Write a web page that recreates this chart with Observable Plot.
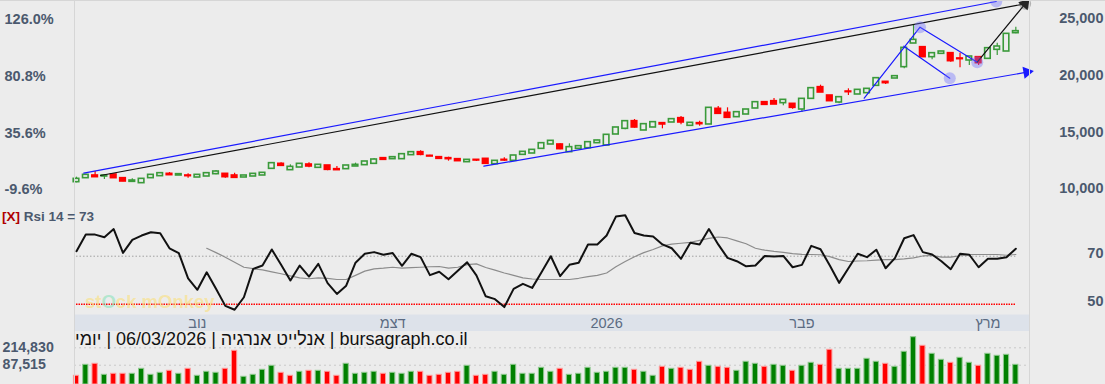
<!DOCTYPE html>
<html>
<head>
<meta charset="utf-8">
<script src="https://cdn.jsdelivr.net/npm/d3@7"></script>
<script src="https://cdn.jsdelivr.net/npm/@observablehq/plot@0.6"></script>
<style>
html, body { margin: 0; padding: 0; background: #ececec; overflow: hidden; }
#chart { position: relative; width: 1105px; height: 384px; background: #ececec; overflow: hidden;
  font-family: "Liberation Sans", Arial, sans-serif; }
#chart > .panel { position: absolute; left: 0; }
.vline { position: absolute; top: 0; width: 1px; height: 384px; background: #d6d6d6; }
.hline { position: absolute; left: 0; top: 0; width: 1105px; height: 1px; background: #d6d6d6; }
#title { position: absolute; left: 75px; top: 332px; font-size: 18px; line-height: 15px; height: 15px; color: #111;
  white-space: nowrap; direction: rtl; }
#rsiLabel { position: absolute; left: 2px; top: 210px; font-size: 13.5px; line-height: 13.5px; font-weight: bold;
  color: #4b596e; white-space: nowrap; }
#rsiLabel .x { color: #b00000; }
#watermark { position: absolute; left: 85px; top: 292px; font-size: 18.5px; font-weight: bold; line-height: 19px;
  color: rgba(252, 222, 110, 0.55); white-space: nowrap; }
#watermark .o1 { color: rgba(130, 225, 180, 0.55); }
</style>
</head>
<body>
<div id="chart"></div>
<script>
// ---------- data ----------
const opens = [
  10585,10938,11174,11085,11262,10938,10614,10497,10938,11115,
  11320,11174,11174,10997,11085,11291,11320,11174,10997,11085,
  11174,11762,12203,11644,11879,12144,11850,12056,11732,11732,
  11968,12085,12203,12703,12615,12615,12968,13232,12909,12791,
  12703,12615,12350,12556,12644,12173,12556,12468,12997,13115,
  13526,13910,13910,13233,13528,13586,14027,13822,14792,15292,
  15968,15145,15410,15792,15851,16234,15557,15792,15675,17057,
  16704,16321,16556,17085,17644,17732,17556,17497,16997,17938,
  18968,18232,17615,18585,18321,18438,19085,19438,19732,20732,
  22820,22497,21615,21909,21968,21500,21321,21615,21468,22262,
  22115,23732];
const highs = [
  11026,11291,11526,11232,11291,10938,10879,10879,11232,11409,
  11438,11291,11320,11232,11409,11615,11320,11379,11174,11320,
  11409,12262,12291,12115,12203,12291,12115,12056,11968,12056,
  12262,12409,12673,12703,12791,13056,13232,13350,12968,12791,
  12791,12615,12556,12556,12644,12468,12732,12938,13262,13438,
  14026,14233,13969,13969,13800,14116,14290,14763,15410,15968,
  16116,15704,15880,15792,16145,16381,15822,15968,17145,17263,
  17145,16762,16997,17644,17644,17968,17850,17497,17938,18880,
  19144,18232,18085,18821,18732,18821,19762,19438,19938,22438,
  24497,22497,21968,22115,21968,21968,21674,21615,22409,22850,
  23673,24262];
const lows = [
  10526,10938,11026,10821,10938,10614,10585,10497,10938,11115,
  11203,11174,10938,10997,11085,11232,10938,10967,10997,11085,
  11174,11762,12026,11644,11879,11850,11850,11585,11644,11732,
  11968,12085,12203,12556,12615,12615,12968,12909,12850,12644,
  12438,12438,12350,12409,12203,12173,12409,12468,12997,13115,
  13494,13910,13439,13233,13500,13586,14000,13822,14792,15204,
  15351,15145,15410,15292,15851,15645,15557,15527,15675,16616,
  16263,16321,16556,17085,17408,17438,17320,17026,16732,17938,
  18497,17732,17497,18232,18321,18438,19085,19203,19732,20585,
  22820,21615,21379,21909,21173,20673,20879,20879,21468,21762,
  22115,23673];
const closes = [
  10879,11232,11026,11174,10938,10644,10732,10879,11232,11379,
  11203,11291,11115,11232,11379,11526,11026,10967,11174,11320,
  11409,12262,12026,11938,12203,11968,12115,11673,11644,12056,
  12115,12409,12585,12556,12791,13056,13232,12997,12850,12644,
  12615,12438,12556,12497,12203,12468,12497,12938,13262,13438,
  14026,14233,13498,13675,13763,14116,14263,14763,15410,15968,
  15410,15704,15880,15675,16145,15851,15822,15704,17145,16616,
  16263,16762,16997,17644,17408,17438,17850,17144,17938,18880,
  18497,17732,18085,18527,18732,18821,19762,19321,19938,22438,
  23144,21615,21968,22115,21262,21440,21674,21085,22409,22556,
  23673,23909];
const volumes = [
  39500,89500,94000,44000,48600,48600,48600,71300,44000,53100,
  62200,48600,71300,39500,57700,53100,71300,153000,35000,44000,
  66800,84900,53100,39500,57700,62200,62200,57700,39500,94000,
  48600,53100,57700,48600,53100,48600,57700,57700,39500,44000,
  53100,57700,84900,39500,44000,57700,44000,89500,48600,48600,
  75900,57700,71300,44000,48600,75900,53100,57700,75900,75900,
  66800,57700,39500,80400,71300,75900,66800,103100,84900,80400,
  75900,62200,103100,94000,80400,89500,84900,62200,84900,98600,
  89500,157600,71300,71300,71300,116700,103100,94000,80400,148500,
  214830,175800,139400,112200,98600,121300,98600,84900,139400,130400,
  134900,89500];
const volumeDir = [
  "R","G","R","G","R","R","G","G","G","G",
  "R","G","R","G","G","G","R","R","G","G",
  "G","G","R","R","G","R","G","R","R","G",
  "G","G","G","R","G","G","G","R","R","R",
  "R","R","G","R","R","G","G","G","G","G",
  "G","G","R","G","G","G","G","G","G","G",
  "R","G","G","R","G","R","R","R","G","R",
  "R","G","G","G","R","G","G","R","G","G",
  "R","R","G","G","G","G","G","R","G","G",
  "G","R","G","G","R","G","G","R","G","G",
  "G","G"];
const rsi = [
  72.1,79.0,79.0,77.9,81.3,71.4,76.8,78.6,80.0,79.6,
  73.3,71.3,60.8,56.0,63.3,56.4,49.3,47.7,52.9,64.7,
  66.1,72.8,66.4,59.9,66.1,61.5,66.8,58.8,54.3,57.7,
  67.3,71.0,71.7,70.6,71.3,66.0,71.0,69.6,62.1,63.5,
  60.4,63.9,67.5,62.0,53.3,52.1,48.8,56.4,58.5,56.8,
  63.3,70.0,61.7,66.4,67.3,74.9,74.9,78.6,86.5,87.1,
  79.7,78.6,78.2,74.9,73.3,68.9,75.6,74.9,81.3,74.9,
  69.3,67.9,65.8,66.1,70.1,69.9,70.1,65.4,66.4,74.3,
  72.9,66.1,58.9,65.0,71.0,69.6,72.7,65.0,69.2,77.5,
  78.8,71.7,70.7,67.9,64.6,71.0,70.6,65.4,68.9,68.9,
  69.6,73.1];
const rsiAvg = [
  null,null,null,null,null,null,null,null,null,null,
  null,null,null,null,73.3,71.5,69.6,67.5,65.4,64.8,
  64.3,63.5,62.7,61.8,61.0,60.6,61.0,60.8,60.3,60.3,
  62.0,63.8,64.7,65.0,65.4,65.0,65.2,65.4,65.6,65.7,
  65.0,65.4,66.5,66.8,65.3,64.2,63.0,62.0,61.0,60.5,
  60.3,60.3,60.3,60.3,60.8,61.5,62.0,63.0,65.6,67.8,
  69.8,71.5,72.8,74.3,75.0,75.4,75.8,76.6,77.4,78.0,
  77.6,76.4,75.2,73.3,72.5,72.0,71.6,71.1,70.8,70.7,
  70.6,69.8,68.6,67.8,68.0,68.1,68.4,68.6,68.6,68.9,
  69.3,70.1,70.3,69.6,69.6,70.2,70.7,70.7,70.7,70.7,
  70.4,70.7];

// axis ticks and labels
const priceTicks = [25000, 20000, 15000, 10000];
const pctLabels = ["126.0%", "80.8%", "35.6%", "-9.6%"];
const rsiTicks = [70, 50];
const volGrid = [166700, 87515];
const volLabels = ["214,830", "87,515"];
const monthLabels = ["נוב", "דצמ", "2026", "פבר", "מרץ"];
const monthIdx = [13, 34, 57, 78, 98];

// drawn annotations (candle index, price)
const upperChannel = [{i: 0.78, p: 11376}, {i: 98.9, p: 26527}];
const blackTrend = [{i: 2.58, p: 11173}, {i: 102.0, p: 26324}];
const lowerChannel = [{i: 43.8, p: 11993}, {i: 102.2, p: 20288}];
const zigzag = [{i: 84.7, p: 17994}, {i: 90.7, p: 24259}, {i: 96.85, p: 21170}];
const zigzagParallel = [{i: 88.96, p: 22582}, {i: 93.9, p: 19759}];
const projection = [{i: 96.85, p: 21170}, {i: 102.0, p: 26324}];
const blueMarkers = [{i: 90.7, p: 24259}, {i: 93.9, p: 19759}, {i: 96.85, p: 21170}, {i: 98.9, p: 26527}];
const darkMarkers = [{i: 102.0, p: 26324}];

// ---------- layout / style ----------
const W = 1105, ML = 74, MR = 76;
const xDomain = [-0.215, 102.47];
const FONT = '"Liberation Sans", Arial, sans-serif';
const LABEL = "#4b596e";
const GREEN = "#3a9a3a", RED = "#ff0000", BG = "#ececec", BLUE = "#1a1aff";

const candles = opens.map((o, i) => ({i, o, h: highs[i], l: lows[i], c: closes[i], up: closes[i] >= o}));
const rsiData = rsi.map((v, i) => ({i, v, a: rsiAvg[i]}));
const volData = volumes.map((v, i) => ({i, v, up: volumeDir[i] === "G"}));
const pctMap = new Map(priceTicks.map((t, k) => [t, pctLabels[k]]));
const volMap = new Map(volGrid.map((t, k) => [t, volLabels[k]]));
const base = {width: W, marginLeft: ML, marginRight: MR, marginTop: 0, marginBottom: 0};
const styl = {background: "transparent", fontFamily: FONT, overflow: "hidden"};

const chart = document.getElementById("chart");
function place(svg, top) { svg.classList.add("panel"); svg.style.top = top + "px"; chart.appendChild(svg); }

// main candlestick panel
const main = Plot.plot({
  ...base, height: 200,
  x: {domain: xDomain, axis: null},
  y: {domain: [8967, 26615], axis: null},
  color: {type: "identity"},
  style: styl,
  marks: [
    Plot.ruleX(candles, {x: "i", y1: "l", y2: "h", stroke: d => d.up ? GREEN : RED, strokeWidth: 1.2}),
    Plot.rect(candles, {x1: d => d.i - 0.3, x2: d => d.i + 0.3, y1: "o", y2: "c",
      fill: d => d.up ? BG : RED, stroke: d => d.up ? GREEN : RED, strokeWidth: 1.6}),
    Plot.line(upperChannel, {x: "i", y: "p", stroke: BLUE, strokeWidth: 1.2, clip: true}),
    Plot.line(blackTrend, {x: "i", y: "p", stroke: "#111", strokeWidth: 1.2, clip: true}),
    Plot.line(lowerChannel, {x: "i", y: "p", stroke: BLUE, strokeWidth: 1.2}),
    Plot.line(zigzag, {x: "i", y: "p", stroke: BLUE, strokeWidth: 1.2}),
    Plot.line(zigzagParallel, {x: "i", y: "p", stroke: BLUE, strokeWidth: 1.2}),
    Plot.line(projection, {x: "i", y: "p", stroke: "#111", strokeWidth: 1.2}),
    Plot.dot(lowerChannel.slice(-1), {x: "i", y: "p", symbol: "triangle", r: 4.5, fill: BLUE, stroke: null, rotate: 80}),
    Plot.dot(projection.slice(-1), {x: "i", y: "p", symbol: "triangle", r: 4.5, fill: "#111", stroke: null, rotate: 40}),
    Plot.dot(blueMarkers, {x: "i", y: "p", r: 6, fill: "#7070ff", fillOpacity: 0.4, stroke: null}),
    Plot.dot(darkMarkers, {x: "i", y: "p", r: 6, fill: "#444", fillOpacity: 0.35, stroke: null}),
    Plot.axisY(priceTicks, {anchor: "right", tickSize: 0, tickPadding: 0, textAnchor: "end", dx: 74,
      tickFormat: d => d3.format(",")(d), fill: LABEL, fontSize: 14.5, fontWeight: "bold", label: null}),
    Plot.axisY(priceTicks, {anchor: "left", tickSize: 0, tickPadding: 0, textAnchor: "start", dx: -70, dy: 1,
      tickFormat: d => pctMap.get(d), fill: LABEL, fontSize: 14.5, fontWeight: "bold", label: null})
  ]
});
place(main, 0);

// RSI panel
const rsiPlot = Plot.plot({
  ...base, height: 114,
  x: {domain: xDomain, axis: null},
  y: {domain: [45.71, 93.21], axis: null},
  style: styl,
  marks: [
    Plot.ruleY([rsiTicks[0]], {x1: 0, x2: rsi.length - 1, stroke: "#a0a0a0", strokeDasharray: "1.5,2", strokeWidth: 1}),
    Plot.ruleY([rsiTicks[1]], {x1: 0, x2: rsi.length - 1, stroke: "#ff0000", strokeDasharray: "1.5,1", strokeWidth: 1.6}),
    Plot.line(rsiData.filter(d => d.a != null), {x: "i", y: "a", stroke: "#8c8c8c", strokeWidth: 1.2}),
    Plot.line(rsiData, {x: "i", y: "v", stroke: "#111", strokeWidth: 2}),
    Plot.axisY(rsiTicks, {anchor: "right", tickSize: 0, tickPadding: 0, textAnchor: "end", dx: 74, dy: -3,
      fill: LABEL, fontSize: 14.5, fontWeight: "bold", label: null})
  ]
});
place(rsiPlot, 200);

// month band
const band = Plot.plot({
  ...base, height: 17,
  x: {domain: xDomain, axis: null},
  style: styl,
  marks: [
    Plot.frame({fill: "#dde2ea", stroke: null}),
    Plot.text(monthLabels, {x: (d, k) => monthIdx[k], text: d => d, frameAnchor: "middle",
      fill: "#5b6b82", fontSize: 14.5})
  ]
});
place(band, 314);

// volume panel
const vol = Plot.plot({
  ...base, height: 53,
  x: {domain: xDomain, axis: null},
  y: {domain: [0, 240726], axis: null},
  color: {type: "identity"},
  style: styl,
  marks: [
    Plot.ruleY(volGrid, {stroke: "#c9c9c9", strokeDasharray: "2,3"}),
    Plot.rect(volData, {x1: d => d.i - 0.28, x2: d => d.i + 0.28, y1: 0, y2: "v",
      fill: d => d.up ? "#008000" : "#ff0000", stroke: d => d.up ? "#8fc98f" : "#ff9a9a", strokeWidth: 1}),
    Plot.axisY(volGrid, {anchor: "left", tickSize: 0, tickPadding: 0, textAnchor: "start", dx: -72, dy: -0.5,
      tickFormat: d => volMap.get(d), fill: LABEL, fontSize: 14.2, fontWeight: "bold", label: null})
  ]
});
place(vol, 331);

// panel borders and texts
chart.insertAdjacentHTML("beforeend",
  '<div class="hline"></div><div class="vline" style="left:74px"></div><div class="vline" style="left:1029px"></div>' +
  '<div id="watermark">st<span class="o1">O</span>ck mOnkey</div>' +
  '<div id="rsiLabel"><span class="x">[X]</span> Rsi 14 = ' + Math.round(rsi[rsi.length - 1]) + '</div>' +
  '<div id="title">bursagraph.co.il | אנלייט אנרגיה | 06/03/2026 | יומי</div>');
</script>
</body>
</html>
